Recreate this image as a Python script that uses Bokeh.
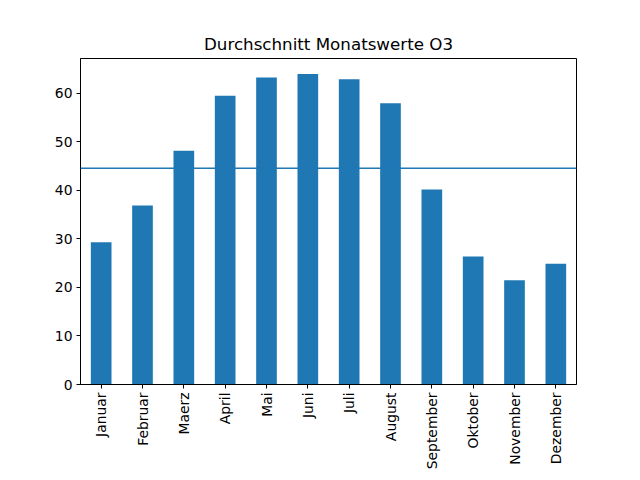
import numpy as np
from bokeh.plotting import figure
from bokeh.models import Span, Range1d, FixedTicker
from bokeh.embed import file_html
from bokeh.resources import INLINE

months = ["Januar", "Februar", "Maerz", "April", "Mai", "Juni", "Juli",
          "August", "September", "Oktober", "November", "Dezember"]
o3_values = [29.3, 36.9, 48.2, 59.5, 63.3, 64.0, 62.9, 58.0, 40.2, 26.4, 21.5, 24.9]
y_ticks = [0, 10, 20, 30, 40, 50, 60]
title_text = "Durchschnitt Monatswerte O3"

mean_value = float(np.mean(o3_values))
bar_color = "#1f77b4"
font = "DejaVu Sans"

p = figure(width=624, height=472, x_range=months,
           y_range=Range1d(0, max(o3_values) * 1.05),
           output_backend="svg", toolbar_location=None,
           title=title_text)

p.vbar(x=months, top=o3_values, width=0.5, color=bar_color, line_color=None)

p.add_layout(Span(location=mean_value, dimension="width",
                  line_color=bar_color, line_width=1.5))

p.title.align = "center"
p.title.text_font = font
p.title.text_font_size = "16.7px"
p.title.text_font_style = "normal"
p.title.text_color = "black"
p.title.standoff = 9

p.min_border_left = 80
p.min_border_right = 48
p.min_border_top = 58
p.min_border_bottom = 2

p.xgrid.visible = False
p.ygrid.visible = False
p.outline_line_color = "black"
p.outline_line_width = 1
p.outline_line_alpha = 1.0
p.x_range.range_padding = 0.0

for ax in (p.xaxis, p.yaxis):
    ax.axis_line_color = "black"
    ax.major_tick_line_color = "black"
    ax.major_tick_out = 4
    ax.major_tick_in = 0
    ax.minor_tick_line_color = None
    ax.major_label_text_font = font
    ax.major_label_text_font_size = "13.9px"
    ax.major_label_text_color = "black"
    ax.major_label_standoff = 4

p.yaxis.ticker = FixedTicker(ticks=y_ticks)
p.xaxis.major_label_orientation = np.pi / 2
p.xaxis.group_text_font_size = "0px"

open("out.html", "w").write(file_html(p, INLINE))
